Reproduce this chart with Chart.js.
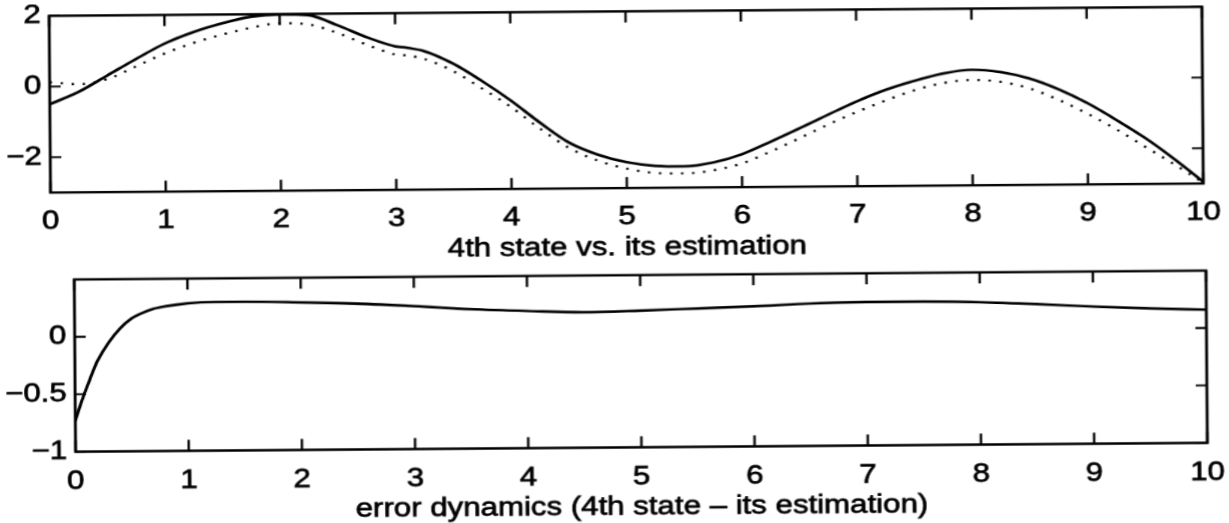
<!DOCTYPE html>
<html>
<head>
<meta charset="utf-8">
<script src="https://cdn.jsdelivr.net/npm/chart.js@4.4.1/dist/chart.umd.min.js"></script>
<style>
  html, body { margin: 0; padding: 0; background: #fff; }
  #page { position: relative; width: 1229px; height: 523px; overflow: hidden; background: #fff; }
  #tilt { position: absolute; left: 0; top: 0; width: 1229px; height: 523px; transform: rotate(-0.45deg); }
  #wide { position: absolute; left: 0; top: 0; width: 1024px; height: 523px; transform: scaleX(1.2); transform-origin: 0 0; }
  #wide canvas { position: absolute; left: 0; top: 0; }
</style>
</head>
<body>
<div id="page">
  <div id="tilt">
    <div id="wide">
      <canvas id="stateChart" width="1024" height="523"></canvas>
      <canvas id="errorChart" width="1024" height="523"></canvas>
    </div>
  </div>
</div>
<script>
// time axis ticks shared by both panels
const xTicks = [0, 1, 2, 3, 4, 5, 6, 7, 8, 9, 10];
const stateTicks = [-2, 0, 2];
const errorTicks = [-1, -0.5, 0];

// 4th state (solid) and its estimate (dotted)
const tState = [0, 0.25, 0.5, 0.75, 1, 1.25, 1.5, 1.75, 2, 2.25, 2.5, 2.75, 3, 3.1, 3.25, 3.5, 3.75,
  4, 4.25, 4.5, 4.75, 5, 5.25, 5.5, 5.75, 6, 6.25, 6.5, 6.75, 7, 7.25, 7.5, 7.75,
  8, 8.25, 8.5, 8.75, 9, 9.25, 9.5, 9.75, 10];
const stateVals = [-0.5, -0.16, 0.30, 0.76, 1.19, 1.51, 1.75, 1.93, 1.99, 1.96, 1.67, 1.33, 1.06, 1.02, 0.92, 0.56, 0.06,
  -0.5, -1.13, -1.7, -2.05, -2.27, -2.38, -2.4, -2.3, -2.07, -1.72, -1.35, -0.97, -0.6, -0.28, -0.03, 0.17,
  0.27, 0.2, 0.01, -0.3, -0.7, -1.18, -1.7, -2.3, -2.95];
const estVals = [0.12, 0.06, 0.2, 0.55, 0.91, 1.2, 1.43, 1.62, 1.74, 1.7, 1.45, 1.12, 0.83, 0.8, 0.7, 0.35, -0.15,
  -0.68, -1.3, -1.85, -2.22, -2.45, -2.58, -2.6, -2.52, -2.33, -2.0, -1.63, -1.25, -0.9, -0.58, -0.3, -0.1,
  -0.02, -0.08, -0.27, -0.6, -1.0, -1.45, -1.95, -2.45, -2.98];

// estimation error
const tError = [0, 0.04, 0.08, 0.12, 0.16, 0.2, 0.3, 0.4, 0.5, 0.6, 0.7, 0.8, 1, 1.25, 1.5, 2, 2.5,
  3, 3.5, 4, 4.5, 5, 5.5, 6, 6.5, 7, 7.5, 8, 8.5, 9, 9.5, 10];
const errorVals = [-0.73, -0.61, -0.5, -0.4, -0.3, -0.21, -0.05, 0.07, 0.155, 0.205, 0.24, 0.26, 0.285, 0.295, 0.295, 0.285, 0.27,
  0.245, 0.215, 0.195, 0.18, 0.19, 0.205, 0.22, 0.24, 0.25, 0.25, 0.24, 0.22, 0.195, 0.175, 0.16];

const FONT = '"Liberation Sans", Arial, Helvetica, sans-serif';
Chart.defaults.font.family = FONT;
Chart.defaults.font.size = 26;
Chart.defaults.color = '#000';

const toPoints = (xs, ys) => xs.map((x, i) => ({x: x, y: ys[i]}));
const fmt = v => String(v).replace('-', '\u2212');

// box around the plot area with inward ticks on all four sides, plus the caption below
const framePlugin = {
  id: 'frame',
  afterDatasetsDraw(chart) {
    const {ctx, chartArea: a} = chart;
    const {x, y} = chart.scales;
    ctx.save();
    ctx.strokeStyle = '#000';
    ctx.lineWidth = 2.4;
    ctx.strokeRect(a.left, a.top, a.right - a.left, a.bottom - a.top);
    ctx.beginPath();
    x.ticks.forEach(t => {
      const px = x.getPixelForValue(t.value);
      ctx.moveTo(px, a.bottom); ctx.lineTo(px, a.bottom - 11);
      ctx.moveTo(px, a.top); ctx.lineTo(px, a.top + 11);
    });
    y.ticks.forEach(t => {
      const py = y.getPixelForValue(t.value);
      ctx.moveTo(a.left, py); ctx.lineTo(a.left + 9.2, py);
      ctx.moveTo(a.right, py); ctx.lineTo(a.right - 9.2, py);
    });
    ctx.lineWidth = 2;
    ctx.stroke();
    ctx.restore();
  },
  afterDraw(chart, args, opts) {
    const {ctx, chartArea: a} = chart;
    ctx.save();
    ctx.font = '26px ' + FONT;
    ctx.textAlign = 'center';
    ctx.textBaseline = 'middle';
    ctx.fillStyle = '#000';
    ctx.strokeStyle = '#000';
    ctx.lineWidth = 0.7;
    const cx = (a.left + a.right) / 2;
    const cy = a.bottom + 59.8;
    ctx.fillText(opts.text, cx, cy);
    ctx.strokeText(opts.text, cx, cy);
    ctx.restore();
  }
};

function makeOptions(p) {
  return {
    responsive: false,
    animation: false,
    devicePixelRatio: 1.2,
    layout: {padding: {left: 0, right: p.right, top: p.top, bottom: p.bottom}},
    plugins: {legend: {display: false}, tooltip: {enabled: false}, frame: {text: p.title}},
    scales: {
      x: {
        type: 'linear', min: 0, max: 10,
        grid: {display: false, drawTicks: false},
        border: {display: false},
        afterBuildTicks: s => { s.ticks = xTicks.map(v => ({value: v})); },
        afterFit: s => { s.height = p.xHeight; s.paddingLeft = 0; s.paddingRight = 0; },
        ticks: {padding: p.xPad, maxRotation: 0, autoSkip: false, callback: v => fmt(v),
          textStrokeColor: '#000', textStrokeWidth: 0.7}
      },
      y: {
        type: 'linear', min: p.yMin, max: p.yMax,
        grid: {display: false, drawTicks: false},
        border: {display: false},
        afterBuildTicks: s => { s.ticks = p.yTicks.map(v => ({value: v})); },
        afterFit: s => { s.width = p.left; s.paddingTop = 0; s.paddingBottom = 0; },
        ticks: {padding: 7, callback: v => fmt(v), textStrokeColor: '#000', textStrokeWidth: 0.7}
      }
    }
  };
}

new Chart(document.getElementById('stateChart'), {
  type: 'line',
  data: {
    datasets: [
      {data: toPoints(tState, stateVals), borderColor: '#000', borderWidth: 2.6, pointRadius: 0,
        cubicInterpolationMode: 'monotone'},
      {data: toPoints(tState, estVals), borderColor: '#000', borderWidth: 2.2, borderDash: [2, 7.2], pointRadius: 0,
        cubicInterpolationMode: 'monotone'}
    ]
  },
  options: makeOptions({
    left: 42.5, right: 21.5, top: 11.4, bottom: 523 - 187.9 - 75.2,
    xHeight: 75.2, xPad: 13.5, yMin: -3, yMax: 2, yTicks: stateTicks,
    title: '4th state vs. its estimation'
  }),
  plugins: [framePlugin]
});

new Chart(document.getElementById('errorChart'), {
  type: 'line',
  data: {
    datasets: [
      {data: toPoints(tError, errorVals), borderColor: '#000', borderWidth: 2.6, pointRadius: 0,
        cubicInterpolationMode: 'monotone'}
    ]
  },
  options: makeOptions({
    left: 61.7, right: 19.8, top: 275, bottom: 0.4,
    xHeight: 75.6, xPad: 14.5, yMin: -1, yMax: 0.5, yTicks: errorTicks,
    title: 'error dynamics (4th state \u2013 its estimation)'
  }),
  plugins: [framePlugin]
});
</script>
</body>
</html>
